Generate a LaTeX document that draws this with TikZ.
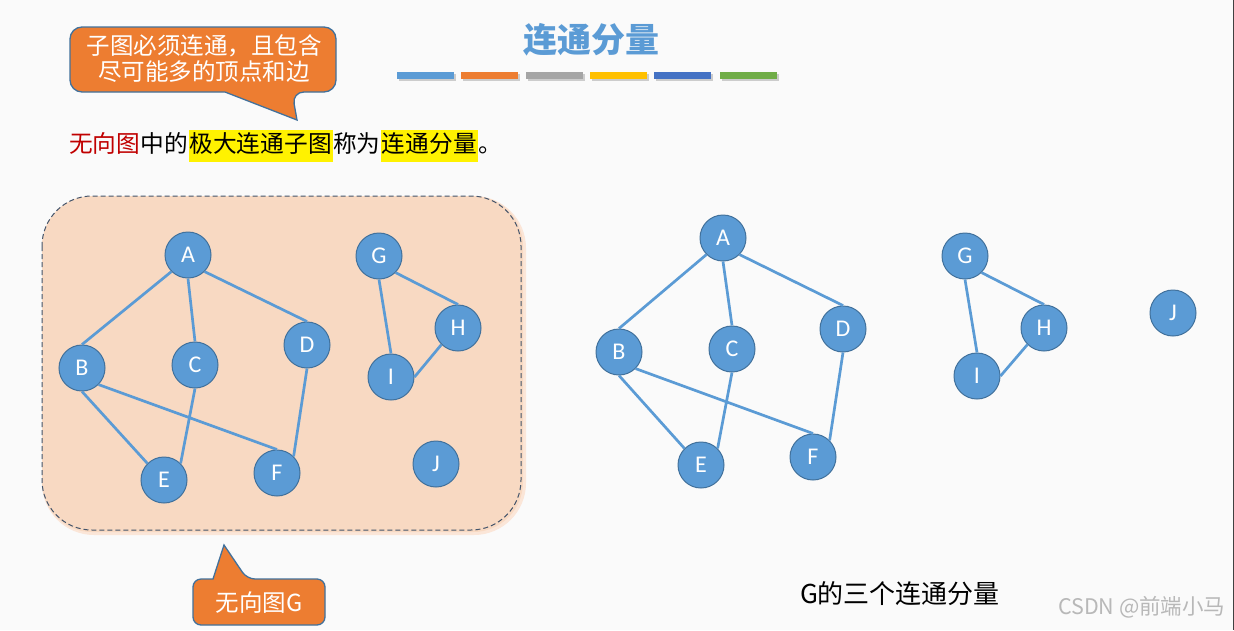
\documentclass[tikz,border=0pt]{standalone}
\usepackage{fontspec}
\setmainfont{Noto Sans CJK SC}
\newfontfamily\vertexfont{Carlito}
\usepackage{xcolor}
\usetikzlibrary{positioning}

\definecolor{nodeblue}{HTML}{5B9BD5}
\definecolor{nodeedge}{HTML}{41719C}
\definecolor{calloutorange}{HTML}{ED7D31}
\definecolor{bargray}{HTML}{A5A5A5}
\definecolor{baryellow}{HTML}{FFC000}
\definecolor{bardarkblue}{HTML}{4472C4}
\definecolor{bargreen}{HTML}{70AD47}
\definecolor{regionfill}{HTML}{F8D9C2}
\definecolor{regionhalo}{HTML}{FBE6D8}
\definecolor{regionline}{HTML}{44546A}
\definecolor{wordred}{HTML}{C00000}

\tikzset{
  vertex/.style={circle,fill=nodeblue,draw=nodeedge,line width=1pt,minimum size=46pt,inner sep=0pt,
    text=white,font=\vertexfont\fontsize{24}{24}\selectfont},
  link/.style={draw=nodeblue,line width=2.7pt},
  callout/.style={fill=calloutorange,draw=nodeedge,line width=1.3pt},
  calltext/.style={text=white,align=center,font=\fontsize{23.5}{26}\selectfont},
  words/.style={inner xsep=0pt,inner ysep=2.5pt,text height=20pt,text depth=6.5pt,font=\fontsize{23.7}{24}\selectfont},
  marked/.style={words,fill=yellow,inner xsep=1pt}
}

\begin{document}
\begin{tikzpicture}[x=1pt,y=-1pt]

  \useasboundingbox (0,0) rectangle (1234,630);
  \fill[white!98!black] (0,0) rectangle (1234,630);
  \draw[black!75,line width=1pt] (1233,0) -- (1233,630);

  % title and colour bars
  \node[text=nodeblue,font=\bfseries\fontsize{34}{34}\selectfont] (title) at (591,40) {连通分量};
  \fill[black!20] (399,74) rectangle (456,81);
  \fill[black!20] (463,74) rectangle (520,81);
  \fill[black!20] (528,74) rectangle (585,81);
  \fill[black!20] (592,74) rectangle (649,81);
  \fill[black!20] (656,74) rectangle (713,81);
  \fill[black!20] (722,74) rectangle (779,81);
  \fill[nodeblue] (397,72) rectangle (454,79);
  \fill[calloutorange] (461,72) rectangle (518,79);
  \fill[bargray] (526,72) rectangle (583,79);
  \fill[baryellow] (590,72) rectangle (647,79);
  \fill[bardarkblue] (654,72) rectangle (711,79);
  \fill[bargreen] (720,72) rectangle (777,79);

  % callout at the top
  \draw[callout] (225,92) [rounded corners=12pt] -| (70,27) -| (336,92) -- (292,92)
    [sharp corners] -- (297,120) -- cycle;
  \node[calltext] (hint) at (204,59) {子图必须连通，且包含\\尽可能多的顶点和边};

  % definition line
  \node[words,text=wordred,anchor=west] (w1) at (69,146) {无向图};
  \node[words,right=0pt of w1] (w2) {中的};
  \node[marked,right=0pt of w2] (w3) {极大连通子图};
  \node[words,right=0pt of w3] (w4) {称为};
  \node[marked,right=0pt of w4] (w5) {连通分量};
  \node[words,right=0pt of w5] (w6) {。};

  % the graph G
  \fill[regionhalo,rounded corners=52pt] (42,196) rectangle (526,535);
  \fill[regionfill,rounded corners=50pt] (42,196) rectangle (523,532);
  \draw[regionline,line width=1pt,dash pattern=on 5pt off 3pt,rounded corners=50pt]
    (42,196) rectangle (521,530);

  \node[vertex] (A) at (188,255) {A};
  \node[vertex] (B) at (82,368) {B};
  \node[vertex] (C) at (195,365) {C};
  \node[vertex] (D) at (307,345) {D};
  \node[vertex] (E) at (164,480) {E};
  \node[vertex] (F) at (277,473) {F};
  \node[vertex] (G) at (379,256) {G};
  \node[vertex] (H) at (458,328) {H};
  \node[vertex] (I) at (391,377) {I};
  \node[vertex] (J) at (436,464) {J};

  \draw[link] (A.south west)--(B.north) (A.south)--(C.north) (A.south east)--(D.north)
    (B.south)--(E.north west) (B.south east)--(F.north) (C.south)--(E.north east)
    (D.south)--(F.north east) (G.south east)--(H.north) (G.south)--(I.north)
    (H.south west)--(I.east);

  \draw[callout] (213,579) [rounded corners=8pt] -| (193,625) -| (325,579) -- (247,579)
    [sharp corners] -- (224,545) -- cycle;
  \node[calltext] (gname) at (259,603) {无向图G};

  % its three connected components
  \node[vertex] (a) at (723,238) {A};
  \node[vertex] (b) at (619,352) {B};
  \node[vertex] (c) at (732,349) {C};
  \node[vertex] (d) at (843,329) {D};
  \node[vertex] (e) at (701,465) {E};
  \node[vertex] (f) at (813,457) {F};
  \node[vertex] (g) at (965,256) {G};
  \node[vertex] (h) at (1044,328) {H};
  \node[vertex] (i) at (977,376) {I};
  \node[vertex] (j) at (1173,313) {J};

  \draw[link] (a.south west)--(b.north) (a.south)--(c.north) (a.south east)--(d.north)
    (b.south)--(e.north west) (b.south east)--(f.north) (c.south)--(e.north east)
    (d.south)--(f.north east) (g.south east)--(h.north) (g.south)--(i.north)
    (h.south west)--(i.east);

  \node[font=\fontsize{26}{26}\selectfont] (parts) at (900,594) {G的三个连通分量};
  \node[anchor=east,text=black!28,font=\fontsize{21.5}{22}\selectfont] (mark) at (1229,607) {CSDN @前端小马};

\end{tikzpicture}
\end{document}
